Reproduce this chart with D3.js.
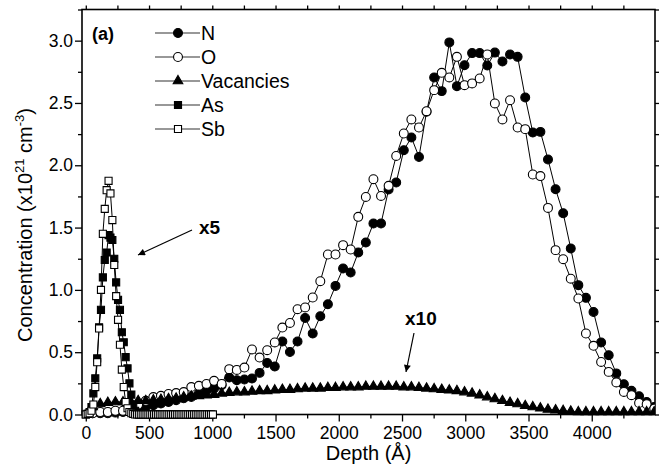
<!DOCTYPE html>
<html>
<head>
<meta charset="utf-8">
<script src="https://cdn.jsdelivr.net/npm/d3@7"></script>
<style>
body { margin: 0; background: #fff; }
svg { font-family: Arial, "Liberation Sans", sans-serif; }
</style>
</head>
<body>
<script>
// depth grid (Angstrom) shared by N, O and vacancies
var depthNO = [54, 114, 174, 234, 294, 354, 414, 474, 534, 594,
  654, 714, 774, 834, 894, 954, 1014, 1074, 1134, 1194,
  1254, 1314, 1374, 1434, 1494, 1554, 1614, 1674, 1734, 1794,
  1854, 1914, 1974, 2034, 2094, 2154, 2214, 2274, 2334, 2394,
  2454, 2514, 2574, 2634, 2694, 2754, 2814, 2874, 2934, 2994,
  3054, 3114, 3174, 3234, 3294, 3354, 3414, 3474, 3534, 3594,
  3654, 3714, 3774, 3834, 3894, 3954, 4014, 4074, 4134, 4194,
  4254, 4314, 4374, 4434, 4494];

var nValues = [0.01, 0.01, 0.01, 0.015, 0.02, 0.03, 0.048, 0.061, 0.075, 0.088,
  0.10, 0.115, 0.13, 0.141, 0.168, 0.19, 0.209, 0.235, 0.297, 0.275,
  0.281, 0.289, 0.334, 0.414, 0.385, 0.586, 0.502, 0.586, 0.775, 0.65,
  0.789, 0.885, 1.032, 1.172, 1.14, 1.30, 1.38, 1.533, 1.533, 1.806,
  1.862, 2.121, 2.223, 2.067, 2.43, 2.705, 2.595, 2.986, 2.635, 2.803,
  2.90, 2.90, 2.80, 2.904, 2.833, 2.889, 2.87, 2.544, 2.263, 2.268,
  2.047, 1.808, 1.615, 1.332, 1.038, 0.936, 0.823, 0.578, 0.476, 0.33,
  0.243, 0.19, 0.147, 0.10, 0.06];

var oValues = [0.01, 0.02, 0.02, 0.03, 0.03, 0.05, 0.08, 0.11, 0.14, 0.15,
  0.165, 0.172, 0.18, 0.22, 0.23, 0.245, 0.27, 0.245, 0.364, 0.358,
  0.377, 0.522, 0.457, 0.516, 0.578, 0.698, 0.735, 0.845, 0.859, 0.939,
  1.07, 1.284, 1.284, 1.359, 1.324, 1.586, 1.746, 1.888, 1.754, 1.835,
  2.075, 2.255, 2.368, 2.303, 2.434, 2.603, 2.742, 2.705, 2.87, 2.643,
  2.657, 2.697, 2.889, 2.496, 2.368, 2.522, 2.303, 2.29, 1.926, 1.913,
  1.658, 1.319, 1.246, 1.09, 0.931, 0.65, 0.551, 0.422, 0.342, 0.257,
  0.181, 0.155, 0.093, 0.083, 0.048];

var vacValues = [0.06, 0.085, 0.095, 0.10, 0.10, 0.105, 0.11, 0.11, 0.115, 0.12,
  0.125, 0.13, 0.14, 0.145, 0.15, 0.155, 0.16, 0.17, 0.175, 0.18,
  0.18, 0.185, 0.19, 0.19, 0.195, 0.20, 0.20, 0.205, 0.21, 0.21,
  0.21, 0.215, 0.215, 0.22, 0.22, 0.22, 0.225, 0.225, 0.225, 0.225,
  0.225, 0.22, 0.22, 0.215, 0.21, 0.205, 0.20, 0.195, 0.19, 0.18,
  0.17, 0.155, 0.14, 0.125, 0.11, 0.095, 0.085, 0.07, 0.06, 0.05,
  0.04, 0.035, 0.03, 0.025, 0.02, 0.02, 0.02, 0.02, 0.02, 0.02,
  0.02, 0.02, 0.02, 0.02, 0.02];

// depth grid for the implanted As / Sb profiles
var depthAsSb = [0, 15, 30, 45, 60, 75, 90, 105, 120, 135,
  150, 165, 180, 195, 210, 225, 240, 255, 270, 285,
  300, 315, 330, 345, 360, 375, 390, 405, 420, 435,
  450, 465, 480, 495, 510, 525, 540, 555, 570, 585,
  600, 615, 630, 645, 660, 675, 690, 705, 720, 735,
  750, 765, 780, 795, 810, 825, 840, 855, 870, 885,
  900, 915, 930, 945, 960, 975, 990, 1005];

var asValues = [0.0, 0.005, 0.02, 0.06, 0.17, 0.29, 0.45, 0.70, 0.84, 1.10,
  1.24, 1.30, 1.44, 1.42, 1.40, 1.25, 1.06, 0.92, 0.84, 0.66,
  0.58, 0.46, 0.37, 0.25, 0.16, 0.08, 0.03, 0.01, 0, 0,
  0, 0, 0, 0, 0, 0, 0, 0, 0, 0,
  0, 0, 0, 0, 0, 0, 0, 0, 0, 0,
  0, 0, 0, 0, 0, 0, 0, 0, 0, 0,
  0, 0, 0, 0, 0, 0, 0, 0];

var sbValues = [0.0, 0.005, 0.01, 0.03, 0.08, 0.22, 0.42, 0.69, 1.0, 1.45,
  1.65, 1.80, 1.875, 1.774, 1.56, 1.20, 0.95, 0.76, 0.56, 0.36,
  0.22, 0.10, 0.05, 0.02, 0.01, 0.005, 0, 0, 0, 0,
  0, 0, 0, 0, 0, 0, 0, 0, 0, 0,
  0, 0, 0, 0, 0, 0, 0, 0, 0, 0,
  0, 0, 0, 0, 0, 0, 0, 0, 0, 0,
  0, 0, 0, 0, 0, 0, 0, 0];

var seriesNames = ["N", "O", "Vacancies", "As", "Sb"];
var xTicks = [0, 500, 1000, 1500, 2000, 2500, 3000, 3500, 4000];
var xMinorTicks = [250, 750, 1250, 1750, 2250, 2750, 3250, 3750, 4250];
var yTicks = [0, 0.5, 1.0, 1.5, 2.0, 2.5, 3.0];
var yMinorTicks = [0.25, 0.75, 1.25, 1.75, 2.25, 2.75, 3.25];

var width = 661, height = 472;
var plot = {left: 82, right: 655, top: 9.5, bottom: 414.5};

var svg = d3.select("body").append("svg")
    .attr("width", width)
    .attr("height", height);

// scales
var xScale = d3.scaleLinear().domain([-30, 4500]).range([plot.left, plot.right]);
var yScale = d3.scaleLinear().domain([0, 3.25]).range([plot.bottom, plot.top]);

// build series from the arrays
function zip(xs, ys) {
  return xs.map(function(x, i) { return {x: x, y: ys[i]}; });
}
var series = [
  {name: "N", data: zip(depthNO, nValues), shape: d3.symbolCircle, size: 62, fill: "#000"},
  {name: "O", data: zip(depthNO, oValues), shape: d3.symbolCircle, size: 62, fill: "#fff"},
  {name: "Vacancies", data: zip(depthNO, vacValues), shape: d3.symbolTriangle, size: 40, fill: "#000"},
  {name: "As", data: zip(depthAsSb, asValues), shape: d3.symbolSquare, size: 50, fill: "#000"},
  {name: "Sb", data: zip(depthAsSb, sbValues), shape: d3.symbolSquare, size: 50, fill: "#fff"}
];

svg.append("defs").append("clipPath")
    .attr("id", "clip")
  .append("rect")
    .attr("x", 0).attr("y", 0)
    .attr("width", plot.right).attr("height", height);

// axes
var xAxis = d3.axisBottom(xScale).tickValues(xTicks).tickSize(7).tickPadding(5)
    .tickFormat(d3.format("d"));
var xAxisMinor = d3.axisBottom(xScale).tickValues(xMinorTicks).tickSize(4).tickFormat("");
var yAxis = d3.axisLeft(yScale).tickValues(yTicks).tickSize(7).tickPadding(2)
    .tickFormat(d3.format(".1f"));
var yAxisMinor = d3.axisLeft(yScale).tickValues(yMinorTicks).tickSize(4).tickFormat("");

svg.append("g").attr("class", "axis")
    .attr("transform", "translate(0," + plot.bottom + ")")
    .call(xAxis);
svg.append("g").attr("class", "axis")
    .attr("transform", "translate(0," + plot.bottom + ")")
    .call(xAxisMinor);
svg.append("g").attr("class", "axis")
    .attr("transform", "translate(" + plot.left + ",0)")
    .call(yAxis);
svg.append("g").attr("class", "axis")
    .attr("transform", "translate(" + plot.left + ",0)")
    .call(yAxisMinor);

// top and right ticks, no labels
svg.append("g").attr("class", "axis")
    .attr("transform", "translate(0," + plot.top + ")")
    .call(d3.axisTop(xScale).tickValues(xTicks.concat(xMinorTicks)).tickSize(4).tickFormat(""));
svg.append("g").attr("class", "axis")
    .attr("transform", "translate(" + plot.right + ",0)")
    .call(d3.axisRight(yScale).tickValues(yTicks.concat(yMinorTicks)).tickSize(4).tickFormat(""));

svg.selectAll(".axis path.domain").remove();
svg.selectAll(".axis line").attr("stroke", "#000").attr("stroke-width", 1.3);
svg.selectAll(".axis text")
    .attr("fill", "#000")
    .style("font-size", "17.5px");

// frame
svg.append("rect")
    .attr("x", plot.left)
    .attr("y", plot.top)
    .attr("width", plot.right - plot.left)
    .attr("height", plot.bottom - plot.top)
    .attr("fill", "none")
    .attr("stroke", "#000")
    .attr("stroke-width", 1.6);

// axis titles
svg.append("text")
    .attr("x", (plot.left + plot.right) / 2)
    .attr("y", 460)
    .attr("text-anchor", "middle")
    .style("font-size", "20px")
    .text("Depth (\u00C5)");

var yTitle = svg.append("text")
    .attr("transform", "translate(32,225) rotate(-90)")
    .attr("text-anchor", "middle")
    .style("font-size", "20px");
yTitle.append("tspan").text("Concentration (x10");
yTitle.append("tspan").attr("dy", -8).style("font-size", "13px").text("21");
yTitle.append("tspan").attr("dy", 8).text(" cm");
yTitle.append("tspan").attr("dy", -8).style("font-size", "13px").text("-3");
yTitle.append("tspan").attr("dy", 8).text(")");

// draw series: line then symbols
var line = d3.line()
    .x(function(d) { return xScale(d.x); })
    .y(function(d) { return yScale(d.y); });

var plotArea = svg.append("g").attr("clip-path", "url(#clip)");

series.forEach(function(s) {
  var g = plotArea.append("g");
  g.append("path")
      .datum(s.data)
      .attr("d", line)
      .attr("fill", "none")
      .attr("stroke", "#000")
      .attr("stroke-width", 1);
  g.selectAll("path.pt")
      .data(s.data)
    .enter().append("path")
      .attr("class", "pt")
      .attr("transform", function(d) { return "translate(" + xScale(d.x) + "," + yScale(d.y) + ")"; })
      .attr("d", d3.symbol().type(s.shape).size(s.size))
      .attr("fill", s.fill)
      .attr("stroke", "#000")
      .attr("stroke-width", 1.1);
});

// legend
var legend = svg.append("g");
seriesNames.forEach(function(name, i) {
  var s = series[i];
  var y = 33 + i * 24;
  legend.append("line")
      .attr("x1", 155).attr("x2", 200)
      .attr("y1", y).attr("y2", y)
      .attr("stroke", "#333")
      .attr("stroke-width", 1.1);
  legend.append("path")
      .attr("transform", "translate(178," + y + ")")
      .attr("d", d3.symbol().type(s.shape).size(s.size))
      .attr("fill", s.fill)
      .attr("stroke", "#000")
      .attr("stroke-width", 1.1);
  legend.append("text")
      .attr("x", 201)
      .attr("y", y + 7)
      .style("font-size", "19.5px")
      .text(name);
});

// annotations
svg.append("text")
    .attr("x", 92).attr("y", 40)
    .style("font-size", "18px")
    .style("font-weight", "bold")
    .text("(a)");

svg.append("defs").append("marker")
    .attr("id", "arrow")
    .attr("viewBox", "0 0 10 10")
    .attr("refX", 10).attr("refY", 5)
    .attr("markerWidth", 9).attr("markerHeight", 7)
    .attr("markerUnits", "userSpaceOnUse")
    .attr("orient", "auto")
  .append("path")
    .attr("d", "M0,0 L10,5 L0,10 Z")
    .attr("fill", "#000");

svg.append("text")
    .attr("x", 199).attr("y", 234)
    .style("font-size", "19px")
    .style("font-weight", "bold")
    .text("x5");
svg.append("line")
    .attr("x1", 192).attr("y1", 230)
    .attr("x2", 138).attr("y2", 255)
    .attr("stroke", "#000").attr("stroke-width", 1.2)
    .attr("marker-end", "url(#arrow)");

svg.append("text")
    .attr("x", 405).attr("y", 325)
    .style("font-size", "19px")
    .style("font-weight", "bold")
    .text("x10");
svg.append("line")
    .attr("x1", 414).attr("y1", 333)
    .attr("x2", 406).attr("y2", 372)
    .attr("stroke", "#000").attr("stroke-width", 1.2)
    .attr("marker-end", "url(#arrow)");
</script>
</body>
</html>
